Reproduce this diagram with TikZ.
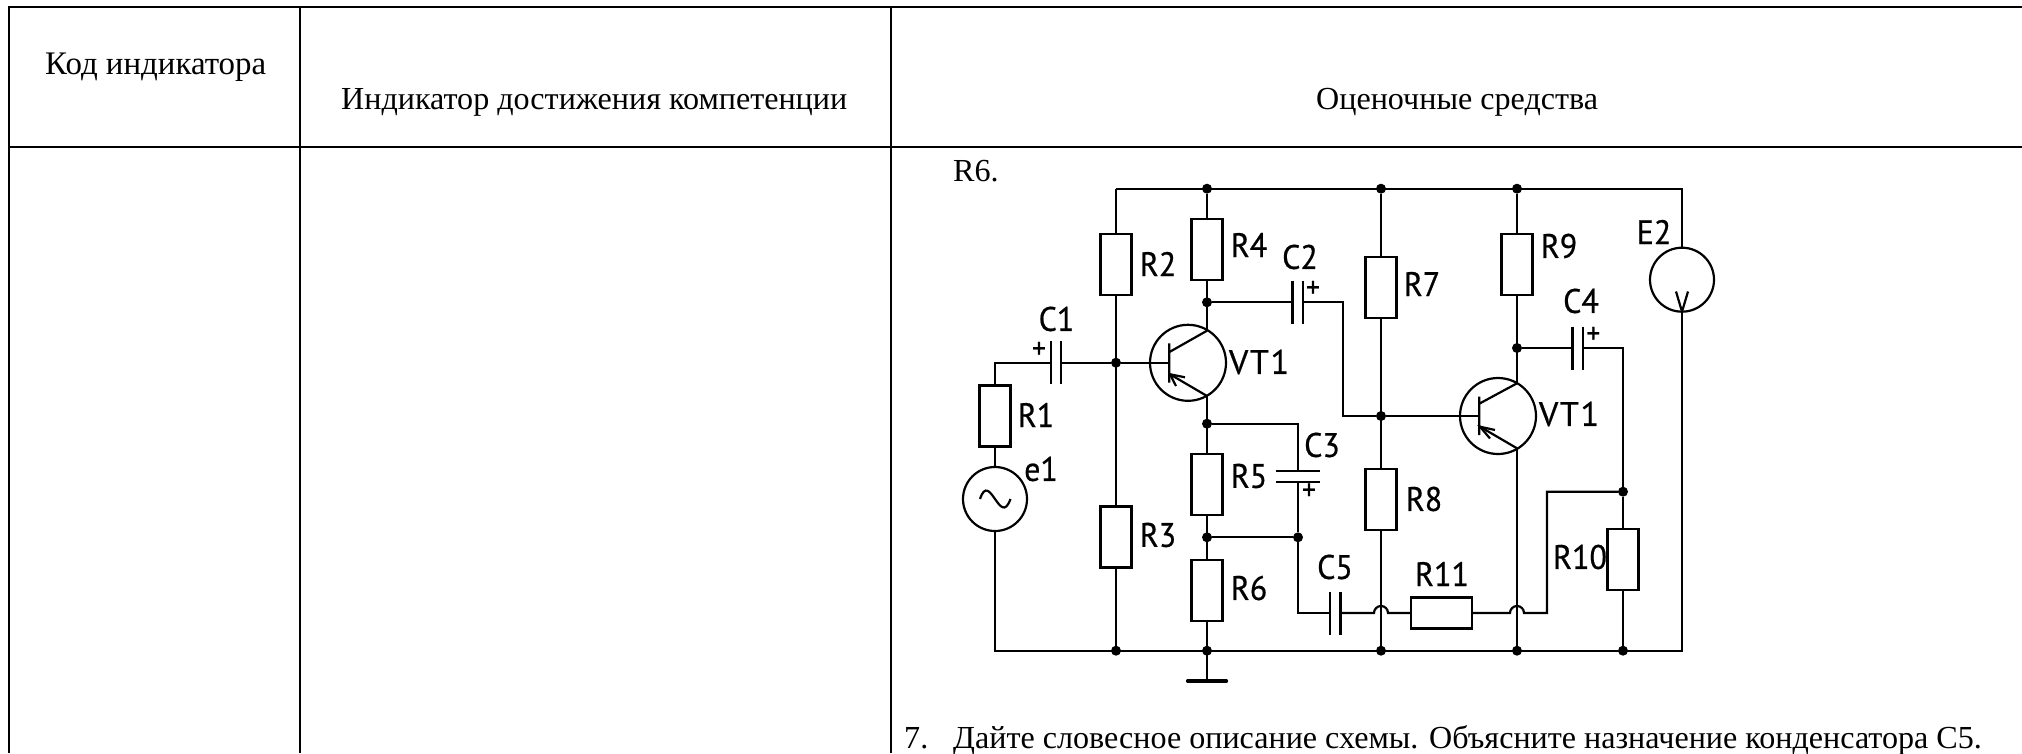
\documentclass[tikz,border=0pt]{standalone}
\usepackage{fontspec}
\setmainfont{Liberation Serif}
\newfontfamily\din[FakeStretch=0.94,FakeBold=0.6]{PT Sans}
\newfontfamily\dinw[FakeStretch=1.0,FakeBold=0.6,LetterSpace=5]{PT Sans}
\tikzset{
  x=1pt,y=-1pt,
  wire/.style={line width=2.2pt,black},
  grid/.style={line width=2.2pt,black},
  res/.style={draw=black,line width=2.2pt,fill=white,minimum width=31pt,minimum height=61pt,inner sep=0pt,outer sep=0pt},
  resh/.style={res,minimum width=61pt,minimum height=31pt},
  dotn/.style={circle,fill=black,minimum size=10pt,inner sep=0pt,outer sep=0pt},
  ring/.style={circle,draw=black,line width=2.2pt,inner sep=0pt,outer sep=0pt},
  lab/.style={font=\din\fontsize{34}{34}\selectfont,inner sep=0pt,text=black},
  labw/.style={font=\dinw\fontsize{34}{34}\selectfont,inner sep=0pt,text=black},
  plus/.style={font=\din\fontsize{29}{29}\selectfont,inner sep=0pt,text=black},
  txt/.style={font=\fontsize{32.1}{36}\selectfont,inner sep=0pt,anchor=base west},
}
\begin{document}
\begin{tikzpicture}
\useasboundingbox (0,0) rectangle (2022,753);
% table
\coordinate (tl) at (8,6.7); \coordinate (tr) at (2022,6.7);
\coordinate (hl) at (8,146.7); \coordinate (hr) at (2022,146.7);
\coordinate (a0) at (9,6.7); \coordinate (a1) at (9,753);
\coordinate (b0) at (300.3,6.7); \coordinate (b1) at (300.3,753);
\coordinate (c0) at (891,6.7); \coordinate (c1) at (891,753);
\draw[grid] (tl)--(tr) (hl)--(hr) (a0)--(a1) (b0)--(b1) (c0)--(c1);
\node[txt,font=\fontsize{32.9}{36}\selectfont] (h1) at (45,74) {Код индикатора};
\node[txt] (h2) at (341,109) {Индикатор достижения компетенции};
\node[txt] (h3) at (1316,109) {Оценочные средства};
\node[txt] (r6) at (953,181) {R6.};
\node[txt] (n7) at (904,748) {7.};
\node[txt] (q7) at (953,748) {Дайте словесное описание схемы. Объясните назначение конденсатора C5.};
% junctions and corners
\foreach \n/\x/\y in {jt1/1207/188.7,jt2/1381/188.7,jt3/1517/188.7,jc2/1207/302.3,jbase/1116/362.7,jem/1207/423.7,
  jr5/1207/537.3,jc3/1298/537.3,jb2/1381/416,jc4/1517/348,jr10/1623/491.7,
  jg1/1116/650.7,jg2/1207/650.7,jg3/1381/650.7,jg4/1517/650.7,jg5/1623/650.7}
  {\node[dotn] (\n) at (\x,\y) {};}
\foreach \n/\x/\y in {ctl/1116/188.7,ctr/1682/188.7,cbl/995/650.7,cbr/1682/650.7,
  c1l/995/362.7,c2r/1343/302.3,c2b/1343/416,c3t/1298/423.7,c5l/1298/613,
  c4r/1623/348,r10l/1547/613,r10t/1547/491.7,gnd/1207/681,
  q1c/1207/330.7,q1e/1207/396,q2c/1517/383.3,q2e/1517/448.3,
  q1cb/1170/351.7,q1eb/1170/374.3,q2cb/1480/403.3,q2eb/1480/426.7,
  j1a/1374/613,j2a/1510/613}
  {\coordinate (\n) at (\x,\y);}
% resistors
\node[res] (R1) at (995,416) {};
\node[res] (R2) at (1116,264.5) {};
\node[res] (R3) at (1116,537) {};
\node[res] (R4) at (1207,249.5) {};
\node[res] (R5) at (1207,484.2) {};
\node[res] (R6) at (1207,590.2) {};
\node[res] (R7) at (1381,287.5) {};
\node[res] (R8) at (1381,499.2) {};
\node[res] (R9) at (1517,264.5) {};
\node[res] (R10) at (1623,559.8) {};
\node[resh] (R11) at (1441.3,613) {};
% sources and transistors
\node[ring,minimum size=64pt] (e1) at (995,499) {};
\node[ring,minimum size=64pt] (E2) at (1682,279.7) {};
\node[ring,minimum size=76pt] (Q1) at (1188,362.8) {};
\node[ring,minimum size=76pt] (Q2) at (1498,416) {};
% capacitor plates
\foreach \n/\x/\y in {c1a/1051/362.7,c1b/1061/362.7,c2a/1292.5/302.3,c2b2/1303/302.3,c4a/1572.5/348,c4b/1583/348,c5a/1330/613,c5b/1340.5/613}
 {\coordinate (\n) at (\x,\y); \draw[wire] (\x,\y-21.5)--(\x,\y+21.5);}
\coordinate (c3a) at (1298,471.3); \coordinate (c3b) at (1298,482);
\draw[wire] (1276,471.3)--(1319.5,471.3) (1276,482)--(1319.5,482);
% wires
\draw[wire] (ctl)--(ctr)--(E2.north) (E2.south)--(cbr)--(cbl)--(e1.south);
\draw[wire] (ctl)--(R2.north) (R2.south)--(R3.north) (R3.south)--(jg1);
\draw[wire] (jt1)--(R4.north) (R4.south)--(q1c);
\draw[wire] (jc2)--(c2a) (c2b2)--(c2r)--(c2b)--(jb2);
\draw[wire] (jt2)--(R7.north) (R7.south)--(R8.north) (R8.south)--(jg3);
\draw[wire] (jt3)--(R9.north) (R9.south)--(q2c) (q2e)--(jg4);
\draw[wire] (jc4)--(c4a) (c4b)--(c4r)--(jr10)--(R10.north) (R10.south)--(jg5);
\draw[wire] (e1.north)--(R1.south) (R1.north)--(c1l)--(c1a) (c1b)--(jbase)--(1169.3,362.7);
\draw[wire] (jb2)--(1479.3,416);
\draw[wire] (q1e)--(R5.north) (R5.south)--(R6.north) (R6.south)--(gnd);
\draw[wire] (jem)--(c3t)--(c3a) (c3b)--(jc3)--(c5l)--(c5a) (jr5)--(jc3);
\draw[wire] (c5b)--(j1a) arc[start angle=180,end angle=360,radius=7] --(R11.west);
\draw[wire] (R11.east)--(j2a) arc[start angle=180,end angle=360,radius=7] --(r10l)--(r10t)--(jr10);
\draw[line width=3.2pt,black,line cap=round] (1187.5,681)--(1226.5,681);
% transistor interiors
\draw[wire] (1169.3,343.3)--(1169.3,382.7) (q1cb)--(q1c) (q1eb)--(q1e);
\draw[wire] (1479.3,396.7)--(1479.3,435.2) (q2cb)--(q2c) (q2eb)--(q2e);
\draw[wire] (1185,377.3)--(1170,374.3)--(1176,386);
\draw[wire] (1495,430)--(1480,426.7)--(1490,438.5);
% source symbols
\draw[wire] (980,499) .. controls (985,484) and (990,492) .. (995,499) .. controls (1000,506) and (1005,514) .. (1010.5,499);
\draw[wire] (1676,291.5)--(1682,311.7)--(1688,291.5);
% labels
\node[lab] (L1) at (1056.5,319) {C1};
\node[lab] (L2) at (1158,264) {R2};
\node[lab] (L3) at (1249,245) {R4};
\node[lab] (L4) at (1300,257) {C2};
\node[labw] (L5) at (1259,362) {VT1};
\node[lab] (L6) at (1036,415) {R1};
\node[lab] (L7) at (1041,469) {e1};
\node[lab] (L8) at (1158,535) {R3};
\node[lab] (L9) at (1249,476) {R5};
\node[lab] (L10) at (1249,588) {R6};
\node[lab] (L11) at (1322,445) {C3};
\node[lab] (L12) at (1335,567) {C5};
\node[lab] (L13) at (1422,284) {R7};
\node[lab] (L14) at (1424,499) {R8};
\node[lab] (L15) at (1442,574) {R11};
\node[lab] (L16) at (1559,246) {R9};
\node[lab] (L17) at (1581,301) {C4};
\node[lab] (L18) at (1654,232) {E2};
\node[labw] (L19) at (1569,414) {VT1};
\node[lab] (L20) at (1580,557) {R10};
\node[plus] (p1) at (1039,350) {+};
\node[plus] (p2) at (1313,289) {+};
\node[plus] (p3) at (1593.3,335) {+};
\node[plus] (p4) at (1309,491.5) {+};
\end{tikzpicture}
\end{document}
